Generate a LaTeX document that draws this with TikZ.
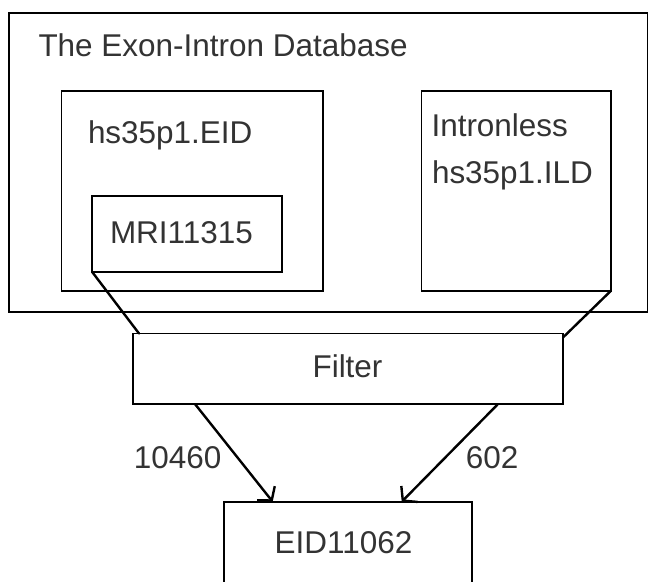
\documentclass[tikz,border=0pt]{standalone}
\usepackage{fontspec}
\setmainfont{Liberation Sans}
\usetikzlibrary{arrows.meta}
\definecolor{txtgray}{HTML}{333333}
\begin{document}
\begin{tikzpicture}[x=0.75pt,y=-0.75pt,
  box/.style={draw=black, line width=1.3pt, inner sep=0pt, outer sep=0pt, rectangle},
  lbl/.style={font=\fontsize{23.6}{28}\selectfont, text=txtgray, inner sep=0pt, outer sep=0pt, anchor=base west},
  conn/.style={draw=black, line width=1.8pt, line cap=round},
  arr/.style={conn, -{Straight Barb[length=7pt, width=17pt, line width=1.8pt]}}]
\useasboundingbox (0,0) rectangle (648,581);
\fill[white] (0,0) rectangle (648,581);
% boxes
\node[box, minimum width=479.1pt, minimum height=224.25pt] (outer) at (328.1,162.2) {};
\node[box, minimum width=196.1pt, minimum height=150pt] (eidbox) at (192.25,190.7) {};
\node[box, minimum width=142.5pt, minimum height=56.8pt] (mri) at (187,233.85) {};
\node[box, minimum width=142.1pt, minimum height=150pt] (ild) at (516.25,190.7) {};
\node[box, minimum width=322.5pt, minimum height=52.9pt] (filter) at (348,368.75) {};
\node[box, minimum width=186pt, minimum height=88.7pt] (out) at (348,560.85) {};
% labels
\node[lbl] (tTitle) at (38.5,57) {The Exon-Intron Database};
\node[lbl] (tEid) at (88,143) {hs35p1.EID};
\node[lbl] (tMri) at (110,243) {MRI11315};
\node[lbl] (tIl1) at (431.5,137) {Intronless};
\node[lbl] (tIl2) at (432,183) {hs35p1.ILD};
\node[lbl, anchor=base] (tFilter) at (347.5,377) {Filter};
\node[lbl] (tOut) at (274.7,553) {EID11062};
\node[lbl] (tA) at (133.8,468) {10460};
\node[lbl] (tB) at (465.8,468) {602};
% connectors
\draw[conn] (mri.south west) -- ([xshift=4.5pt]filter.north west);
\draw[conn] (ild.south east) -- ([yshift=-3pt]filter.north east);
\draw[arr] ([xshift=46.5pt]filter.south west) -- ([xshift=36.5pt]out.north west);
\draw[arr] ([xshift=-48.75pt]filter.south east) -- ([xshift=-52.7pt]out.north east);
\end{tikzpicture}
\end{document}
